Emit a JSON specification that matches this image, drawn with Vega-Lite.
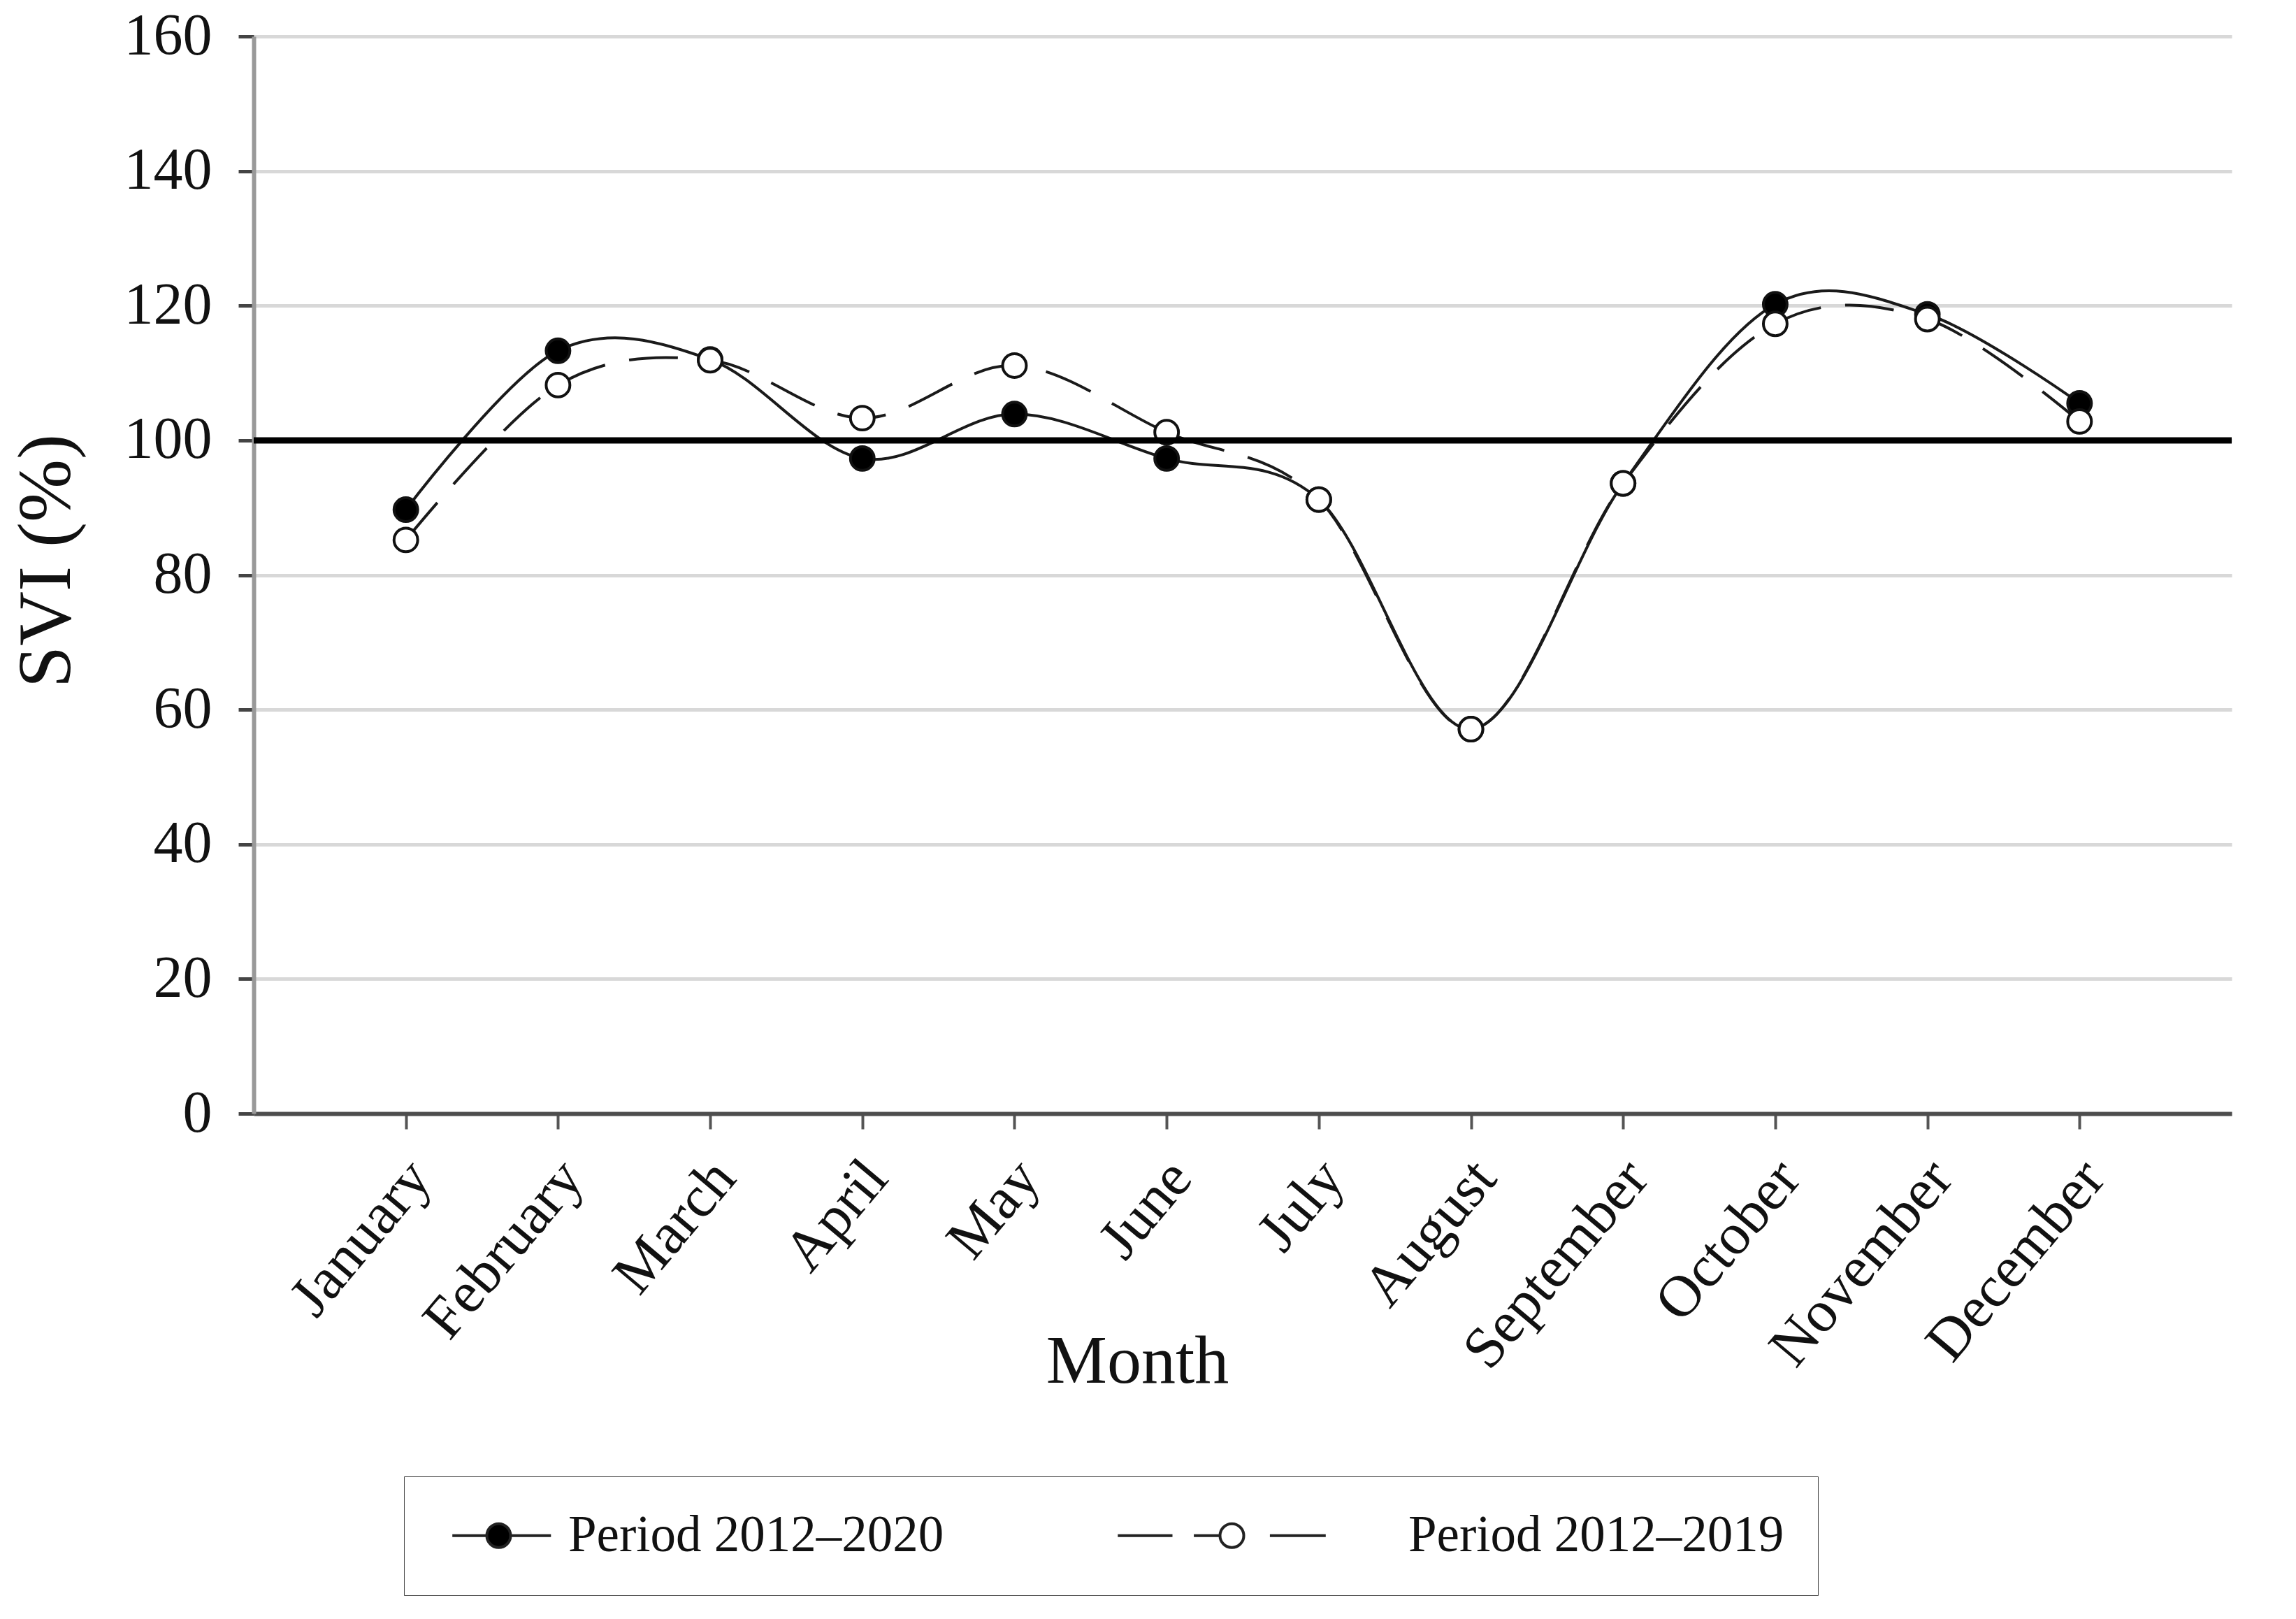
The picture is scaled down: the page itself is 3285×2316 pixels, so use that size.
{
  "$schema": "https://vega.github.io/schema/vega-lite/v6.json",
  "width": 2830,
  "height": 1541,
  "autosize": {"type": "none"},
  "padding": {"left": 363, "top": 52, "right": 92, "bottom": 723},
  "background": "white",
  "config": {"view": {"stroke": null}, "font": "Liberation Serif"},
  "data": {
    "values": [
      {"month": "January", "series": "Period 2012–2020", "svi": 89.7},
      {"month": "February", "series": "Period 2012–2020", "svi": 113.3},
      {"month": "March", "series": "Period 2012–2020", "svi": 112.0},
      {"month": "April", "series": "Period 2012–2020", "svi": 97.3},
      {"month": "May", "series": "Period 2012–2020", "svi": 103.9},
      {"month": "June", "series": "Period 2012–2020", "svi": 97.3},
      {"month": "July", "series": "Period 2012–2020", "svi": 91.2},
      {"month": "August", "series": "Period 2012–2020", "svi": 57.1},
      {"month": "September", "series": "Period 2012–2020", "svi": 93.6},
      {"month": "October", "series": "Period 2012–2020", "svi": 120.2},
      {"month": "November", "series": "Period 2012–2020", "svi": 118.7},
      {"month": "December", "series": "Period 2012–2020", "svi": 105.5},
      {"month": "January", "series": "Period 2012–2019", "svi": 85.2},
      {"month": "February", "series": "Period 2012–2019", "svi": 108.2},
      {"month": "March", "series": "Period 2012–2019", "svi": 111.9},
      {"month": "April", "series": "Period 2012–2019", "svi": 103.3},
      {"month": "May", "series": "Period 2012–2019", "svi": 111.1},
      {"month": "June", "series": "Period 2012–2019", "svi": 101.2},
      {"month": "July", "series": "Period 2012–2019", "svi": 91.2},
      {"month": "August", "series": "Period 2012–2019", "svi": 57.1},
      {"month": "September", "series": "Period 2012–2019", "svi": 93.6},
      {"month": "October", "series": "Period 2012–2019", "svi": 117.3},
      {"month": "November", "series": "Period 2012–2019", "svi": 118.0},
      {"month": "December", "series": "Period 2012–2019", "svi": 102.8}
    ]
  },
  "layer": [
    {
      "transform": [{"filter": "datum.series === 'Period 2012–2019'"}],
      "mark": {"type": "line", "interpolate": "cardinal", "strokeWidth": 4, "color": "#1a1a1a", "strokeDash": [70, 35]},
      "encoding": {
        "x": {
          "field": "month", "type": "ordinal",
          "sort": ["January","February","March","April","May","June","July","August","September","October","November","December"],
          "scale": {"type": "point", "padding": 1},
          "axis": {
            "title": "Month",
            "titleFont": "Liberation Serif", "titleFontSize": 98, "titleFontWeight": "normal", "titleColor": "#111",
            "titleX": 1264, "titleY": 384, "titleBaseline": "alphabetic", "titleAlign": "center",
            "labelFont": "Liberation Serif", "labelFontSize": 84, "labelColor": "#111", "labelLimit": 2000,
            "labelAngle": -50, "labelAlign": "right", "labelBaseline": "middle", "labelPadding": 56, "labelOffset": 20,
            "domainColor": "#4d4d4d", "domainWidth": 6,
            "tickColor": "#555", "tickWidth": 4, "tickSize": 22,
            "grid": false
          }
        },
        "y": {
          "field": "svi", "type": "quantitative",
          "scale": {"domain": [0, 160], "nice": false, "zero": true},
          "axis": {
            "title": "SVI (%)",
            "titleFont": "Liberation Serif", "titleFontSize": 108, "titleFontWeight": "normal", "titleColor": "#111",
            "titlePadding": 55, "titleY": 750,
            "values": [0, 20, 40, 60, 80, 100, 120, 140, 160],
            "labelFont": "Liberation Serif", "labelFontSize": 84, "labelColor": "#111", "labelPadding": 38,
            "domainColor": "#999999", "domainWidth": 6,
            "tickColor": "#444", "tickWidth": 5, "tickSize": 22,
            "grid": true, "gridColor": "#d8d8d8", "gridWidth": 5
          }
        }
      }
    },
    {
      "transform": [{"filter": "datum.series === 'Period 2012–2020'"}],
      "mark": {"type": "line", "interpolate": "cardinal", "strokeWidth": 4, "color": "#1a1a1a"},
      "encoding": {
        "x": {
          "field": "month", "type": "ordinal",
          "sort": ["January","February","March","April","May","June","July","August","September","October","November","December"]
        },
        "y": {"field": "svi", "type": "quantitative"}
      }
    },
    {
      "mark": {"type": "point", "shape": "circle", "size": 1150, "strokeWidth": 4, "stroke": "#111", "filled": true, "opacity": 1},
      "encoding": {
        "x": {
          "field": "month", "type": "ordinal",
          "sort": ["January","February","March","April","May","June","July","August","September","October","November","December"]
        },
        "y": {"field": "svi", "type": "quantitative"},
        "fill": {
          "field": "series", "type": "nominal",
          "scale": {"domain": ["Period 2012–2020", "Period 2012–2019"], "range": ["#000000", "#ffffff"]},
          "legend": {
            "title": null,
            "orient": "none", "legendX": 215, "legendY": 2060,
            "direction": "horizontal",
            "strokeColor": "#444", "padding": 48,
            "labelFont": "Liberation Serif", "labelFontSize": 73, "labelColor": "#111", "labelLimit": 2000,
            "labelOffset": 114, "columnPadding": 240,
            "symbolSize": 1156, "symbolStrokeWidth": 4, "symbolStrokeColor": "#222",
            "symbolType": {"expr": "datum.value === 'Period 2012–2019' ? 'M-15.6,0L-11,0M-9.2,0L-7,0M-5,0A1,1,0,1,1,-7,0A1,1,0,1,1,-5,0M-2.8,0L1.9,0' : 'M-0.9,0L2,0M4,0L7.4,0M4,0A1,1,0,1,1,2,0A1,1,0,1,1,4,0Z'"},
            "encode": {
              "legend": {"update": {"strokeWidth": {"value": 5}}},
              "symbols": {
                "update": {
                  "stroke": {"value": "#222"},
                  "strokeWidth": {"value": 4},
                  "opacity": {"value": 1}
                }
              }
            }
          }
        }
      }
    },
    {
      "data": {"values": [{"ref": 100}]},
      "mark": {"type": "rule", "color": "#000000", "strokeWidth": 9},
      "encoding": {"y": {"field": "ref", "type": "quantitative"}}
    }
  ]
}
